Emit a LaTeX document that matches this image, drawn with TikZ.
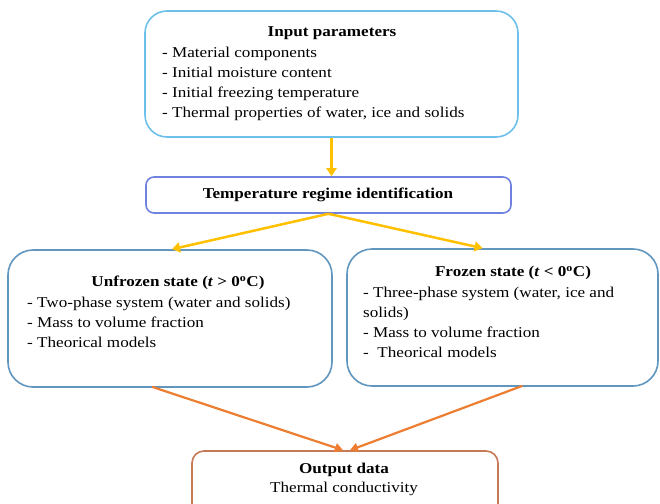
\documentclass[tikz,border=0pt]{standalone}
\usepackage{fontspec}
\setmainfont[FakeStretch=1.14]{Liberation Serif}
\usetikzlibrary{arrows.meta,calc}
\definecolor{inblue}{HTML}{6DC0EA}
\definecolor{tblue}{HTML}{6F82E0}
\definecolor{sblue}{HTML}{6196BF}
\definecolor{outbr}{HTML}{C57A55}
\definecolor{yel}{HTML}{FFC000}
\definecolor{org}{HTML}{ED7D31}
\tikzset{
  box/.style={draw, line width=1.6pt, fill=white, inner sep=0pt},
  txt/.style={inner sep=0pt, align=left, font=\fontsize{15}{20}\selectfont},
  ttl/.style={inner sep=0pt, font=\fontsize{15}{20}\selectfont\bfseries},
  yarr/.style={draw=yel, line width=2.5pt, -{Triangle[length=8pt,width=10pt]}},
  oarr/.style={draw=org, line width=2.2pt, -{Triangle[length=8pt,width=9pt]}},
}
\begin{document}
\begin{tikzpicture}[x=1pt,y=-1pt]
\useasboundingbox (0,0) rectangle (660,503);
\clip (0,0) rectangle (660,503);
% boxes
\node[box, draw=inblue, rounded corners=22pt, minimum width=373pt, minimum height=126pt] (input) at (331.5,74) {};
\node[box, draw=tblue, rounded corners=8pt, minimum width=365pt, minimum height=36pt] (temp) at (328.5,195) {};
\node[box, draw=sblue, rounded corners=25pt, minimum width=324pt, minimum height=137pt] (unfrozen) at (170,318.5) {};
\node[box, draw=sblue, rounded corners=25pt, minimum width=311pt, minimum height=137pt] (frozen) at (502.5,317.5) {};
\node[box, draw=outbr, rounded corners=12pt, minimum width=306pt, minimum height=70pt] (output) at (345,486) {};
% texts
\node[ttl] (inputT) at (332,33) {Input parameters};
\node[txt, anchor=north west] (inputL) at (162,47) {- Material components\\- Initial moisture content\\- Initial freezing temperature\\- Thermal properties of water, ice and solids};
\node[ttl] (tempT) at (328,195) {Temperature regime identification};
\node[ttl] (unfT) at (178,283) {Unfrozen state (\textit{t} > 0\textsuperscript{o}C)};
\node[txt, anchor=north west] (unfL) at (27,297) {- Two-phase system (water and solids)\\- Mass to volume fraction\\- Theorical models};
\node[ttl] (frzT) at (513,273) {Frozen state (\textit{t} < 0\textsuperscript{o}C)};
\node[txt, anchor=north west] (frzL) at (363,287) {- Three-phase system (water, ice and\\solids)\\- Mass to volume fraction\\-\ \ Theorical models};
\node[ttl] (outT) at (344,470) {Output data};
\node[txt, anchor=center] (outL) at (344,489) {Thermal conductivity};
% connectors
\draw[yarr] (input.south) -- (input.south |- temp.north);
\draw[yarr] (temp.south) -- ([xshift=2pt]unfrozen.north);
\draw[yarr] (temp.south) -- ([xshift=-20pt]frozen.north);
\draw[oarr] ([xshift=-18pt,yshift=1pt]unfrozen.south) -- ([xshift=-2pt]output.north);
\draw[oarr] ([xshift=20pt,yshift=1pt]frozen.south) -- ([xshift=5pt]output.north);
\end{tikzpicture}
\end{document}
